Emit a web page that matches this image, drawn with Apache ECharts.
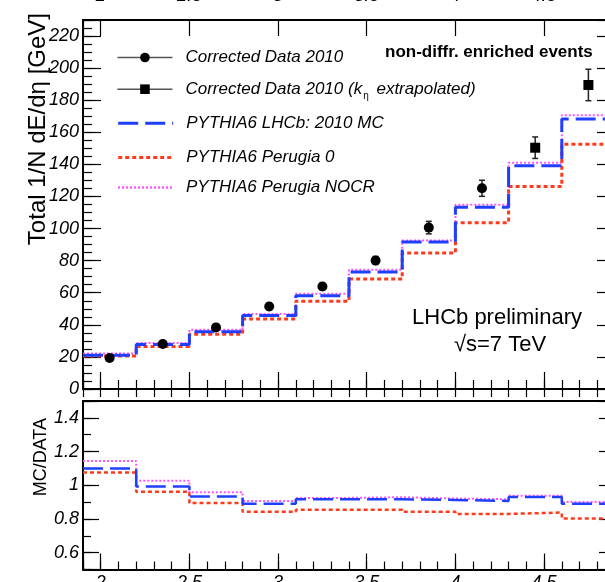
<!DOCTYPE html>
<html><head><meta charset="utf-8">
<script src="https://cdn.jsdelivr.net/npm/echarts@6/dist/echarts.min.js"></script>
<style>html,body{margin:0;padding:0;background:#fff;}#c{width:605px;height:582px;}</style>
</head><body><div id="c"></div>
<script>
// ---- data ----
const binEdges = [1.9, 2.2, 2.5, 2.8, 3.1, 3.4, 3.7, 4.0, 4.3, 4.6, 4.9];
const dataX = [2.05, 2.35, 2.65, 2.95, 3.25, 3.55, 3.85, 4.15];
const dataY = [19.3, 28.0, 38.4, 51.4, 63.9, 80.1, 100.6, 125.1];
const dataErr = [1.0, 1.2, 1.5, 1.8, 2.0, 2.5, 3.9, 5.0];
const extrapX = [4.45, 4.75];
const extrapY = [150.4, 189.5];
const extrapErr = [6.7, 9.8];
const mcLHCb = [21.0, 27.8, 35.7, 45.8, 58.2, 73.0, 91.7, 113.3, 139.2, 168.3];
const mcPerugia0 = [20.6, 26.5, 34.2, 43.6, 54.7, 68.5, 84.7, 103.7, 126.2, 152.5];
const mcNOCR = [22.1, 28.6, 36.9, 46.7, 59.3, 74.3, 92.5, 114.8, 141.1, 170.6];
const ratioLHCb = [1.100, 0.992, 0.933, 0.890, 0.917, 0.917, 0.913, 0.907, 0.931, 0.890];
const ratioPerugia0 = [1.075, 0.962, 0.894, 0.842, 0.854, 0.854, 0.842, 0.830, 0.838, 0.803];
const ratioNOCR = [1.144, 1.027, 0.959, 0.907, 0.925, 0.929, 0.921, 0.917, 0.937, 0.901];

const N1 = 'Corrected Data 2010';
const N2 = 'Corrected Data 2010 (kη extrapolated)';
const N3 = 'PYTHIA6 LHCb: 2010 MC';
const N4 = 'PYTHIA6 Perugia 0';
const N5 = 'PYTHIA6 Perugia NOCR';

function steps(vals) {
  const pts = [];
  vals.forEach((v, i) => { pts.push([binEdges[i], v]); pts.push([binEdges[i + 1], v]); });
  return pts;
}
function zip(xs, ys, es) { return xs.map((x, i) => es ? [x, ys[i], es[i]] : [x, ys[i]]); }

const FONT = 'Liberation Sans, Arial, Helvetica, sans-serif';
const lblStyle = { fontFamily: FONT, fontStyle: 'italic', fontSize: 18, color: '#000' };
const fmtHalf = v => (Math.abs(v * 2 - Math.round(v * 2)) < 1e-6 ? String(+v.toFixed(1)) : '');
const fmtRatio = v => {
  if (v < 0.55 || v > 1.45) return '';
  return Math.abs(v * 5 - Math.round(v * 5)) < 1e-6 ? String(+v.toFixed(1)) : '';
};
const fmtTop = v => (v > 225 ? '' : String(v));

function xAx(grid, pos, opts) {
  return Object.assign({
    type: 'value', gridIndex: grid, position: pos, min: 1.9, max: 4.9,
    axisLine: { show: false }, splitLine: { show: false },
    axisTick: { show: true, inside: true, length: 9, lineStyle: { color: '#000', width: 1.2 } },
    axisLabel: { show: false }, minorTick: { show: false }
  }, opts);
}
function yAx(grid, pos, min, max, opts) {
  return Object.assign({
    type: 'value', gridIndex: grid, position: pos, min: min, max: max,
    axisLine: { show: false }, splitLine: { show: false },
    axisTick: { show: true, inside: true, length: 9, lineStyle: { color: '#000', width: 1.2 } },
    axisLabel: { show: false }, minorTick: { show: false }
  }, opts);
}
const frameLine = { show: true, onZero: false, lineStyle: { color: '#000', width: 2 } };
const tick = len => ({ show: true, inside: true, length: len, lineStyle: { color: '#000', width: 1.2 } });

const xAxis = [
  xAx(0, 'bottom', { splitNumber: 6, axisLine: frameLine, axisTick: tick(17) }),
  xAx(0, 'bottom', { interval: 0.1 }),
  xAx(0, 'top', { splitNumber: 6, axisLine: frameLine, axisTick: tick(16),
    axisLabel: Object.assign({ show: true, margin: 15, formatter: fmtHalf }, lblStyle) }),
  xAx(0, 'top', { interval: 0.1, axisTick: tick(8) }),
  xAx(1, 'bottom', { splitNumber: 6, axisLine: frameLine, axisTick: tick(16),
    axisLabel: Object.assign({ show: true, margin: 4, formatter: fmtHalf }, lblStyle) }),
  xAx(1, 'bottom', { interval: 0.1, axisTick: tick(8) }),
  xAx(1, 'top', { axisLine: frameLine, axisTick: { show: false } })
];

const yAxis = [
  yAx(0, 'left', 0, 230, { interval: 20, axisLine: frameLine, axisTick: tick(18),
    axisLabel: Object.assign({ show: true, margin: 4, formatter: fmtTop }, lblStyle) }),
  yAx(0, 'left', 0, 230, { interval: 5 }),
  yAx(0, 'right', 0, 230, { interval: 20, axisLine: frameLine, axisTick: tick(18) }),
  yAx(1, 'left', 0.5, 1.5, { splitNumber: 5, axisLine: frameLine, axisTick: tick(16),
    axisLabel: Object.assign({ show: true, margin: 4, formatter: fmtRatio }, lblStyle) }),
  yAx(1, 'left', 0.5, 1.5, { interval: 0.1, axisTick: tick(8) }),
  yAx(1, 'right', 0.5, 1.5, { splitNumber: 5, axisLine: frameLine, axisTick: tick(16) })
];

const BLUE = '#1f3fff', RED = '#ff3a1c', MAG = '#ff55ff';
function histo(name, vals, xi, yi, color, width, dash, z) {
  return { type: 'line', name: name, xAxisIndex: xi, yAxisIndex: yi, data: steps(vals), symbol: 'none',
    showSymbol: false, lineStyle: { color: color, width: width, type: dash }, itemStyle: { color: color },
    z: z, silent: true };
}

function errRender(params, api) {
  const x = api.value(0), y = api.value(1), e = api.value(2);
  const top = api.coord([x, y + e]), bot = api.coord([x, y - e]);
  const cw = 3;
  return { type: 'group', children: [
    { type: 'line', shape: { x1: top[0], y1: top[1], x2: bot[0], y2: bot[1] }, style: { stroke: '#222', lineWidth: 1.5 } },
    { type: 'line', shape: { x1: top[0] - cw, y1: top[1], x2: top[0] + cw, y2: top[1] }, style: { stroke: '#222', lineWidth: 1.5 } },
    { type: 'line', shape: { x1: bot[0] - cw, y1: bot[1], x2: bot[0] + cw, y2: bot[1] }, style: { stroke: '#222', lineWidth: 1.5 } }
  ] };
}

const series = [
  histo(N5, mcNOCR, 0, 0, MAG, 2, [2, 2], 3),
  histo(N4, mcPerugia0, 0, 0, RED, 3, [4, 3], 4),
  histo(N3, mcLHCb, 0, 0, BLUE, 3, [20, 7], 5),
  histo(N5, ratioNOCR, 4, 3, MAG, 2, [2, 2], 3),
  histo(N4, ratioPerugia0, 4, 3, RED, 2.5, [4, 3], 4),
  histo(N3, ratioLHCb, 4, 3, BLUE, 2.5, [20, 7], 5),
  { type: 'custom', name: 'err', xAxisIndex: 0, yAxisIndex: 0, renderItem: errRender,
    data: zip(dataX, dataY, dataErr).concat(zip(extrapX, extrapY, extrapErr)), z: 8, silent: true },
  { type: 'line', name: N1, xAxisIndex: 0, yAxisIndex: 0, data: zip(dataX, dataY), symbol: 'circle', symbolSize: 10,
    showSymbol: true, lineStyle: { width: 0, opacity: 0 }, itemStyle: { color: '#000' }, z: 10, silent: true },
  { type: 'line', name: N2, xAxisIndex: 0, yAxisIndex: 0, data: zip(extrapX, extrapY), symbol: 'rect', symbolSize: 10,
    showSymbol: true, lineStyle: { width: 0, opacity: 0 }, itemStyle: { color: '#000' }, z: 10, silent: true }
];

const legTxt = {
  fontFamily: FONT, fontStyle: 'italic', fontSize: 17, color: '#000', padding: [0, 0, 0, 8],
  rich: { sub: { fontFamily: FONT, fontStyle: 'normal', fontSize: 10, color: '#000', padding: [14, 3, 0, 1] } }
};
function leg(item, yc) {
  return { data: [item], left: 116.7, top: yc - 6, orient: 'vertical', padding: 0, itemWidth: 55, itemHeight: 12,
    selectedMode: false, textStyle: legTxt,
    formatter: n => (n === N2 ? 'Corrected Data 2010 (k{sub|η} extrapolated)' : n) };
}
const dataLine = { color: '#555', width: 1.5, opacity: 1, type: 'solid' };
const legend = [
  leg({ name: N1, lineStyle: dataLine }, 55),
  leg({ name: N2, lineStyle: dataLine }, 86.7),
  leg({ name: N3, itemStyle: { opacity: 0 }, lineStyle: { width: 3 } }, 120.7),
  leg({ name: N4, itemStyle: { opacity: 0 }, lineStyle: { width: 3 } }, 155),
  leg({ name: N5, itemStyle: { opacity: 0 }, lineStyle: { width: 2.5 } }, 185)
];

const graphic = [
  { type: 'text', x: 385, y: 52, style: { text: 'non-diffr. enriched events', font: 'bold 17px ' + FONT, fill: '#000',
      textAlign: 'left', textVerticalAlign: 'middle', align: 'left', verticalAlign: 'middle' } },
  { type: 'text', x: 497, y: 318, style: { text: 'LHCb preliminary', font: '22px ' + FONT, fill: '#000',
      textAlign: 'center', textVerticalAlign: 'middle', align: 'center', verticalAlign: 'middle' } },
  { type: 'text', x: 500, y: 345, style: { text: '√s=7 TeV', font: '22px ' + FONT, fill: '#000',
      textAlign: 'center', textVerticalAlign: 'middle', align: 'center', verticalAlign: 'middle' } },
  { type: 'text', x: 38, y: 13, rotation: Math.PI / 2, style: { text: 'Total 1/N dE/dη [GeV]', font: '24px ' + FONT, fill: '#000',
      textAlign: 'right', textVerticalAlign: 'middle', align: 'right', verticalAlign: 'middle' } },
  { type: 'text', x: 41, y: 418, rotation: Math.PI / 2, style: { text: 'MC/DATA', font: '18px ' + FONT, fill: '#000',
      textAlign: 'right', textVerticalAlign: 'middle', align: 'right', verticalAlign: 'middle' } }
];

const chart = echarts.init(document.getElementById('c'), null, { renderer: 'canvas' });
chart.setOption({
  animation: false,
  backgroundColor: '#fff',
  grid: [
    { left: 83, top: 20, width: 532, height: 369, containLabel: false, outerBoundsMode: 'none' },
    { left: 83, top: 401, width: 532, height: 168.5, containLabel: false, outerBoundsMode: 'none' }
  ],
  xAxis: xAxis,
  yAxis: yAxis,
  legend: legend,
  series: series,
  graphic: graphic
});
</script>
</body></html>
